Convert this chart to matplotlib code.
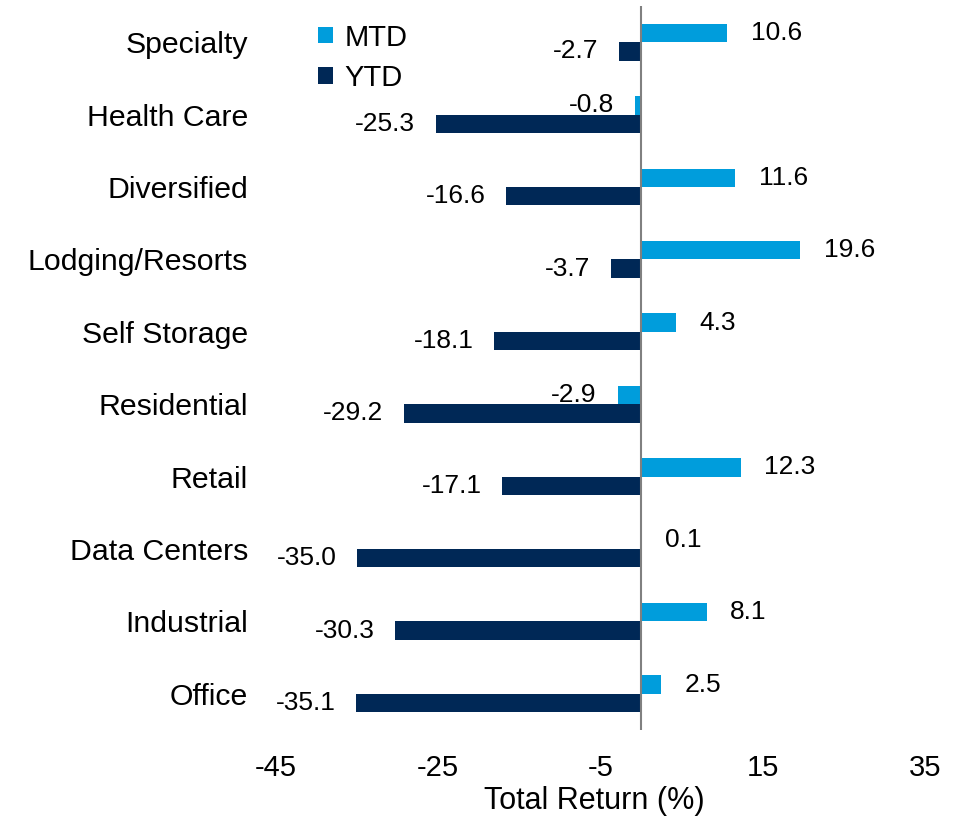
import numpy as np
import matplotlib.pyplot as plt

plt.rcParams['font.family'] = ['Liberation Sans', 'DejaVu Sans']

categories = ["Specialty", "Health Care", "Diversified", "Lodging/Resorts", "Self Storage",
              "Residential", "Retail", "Data Centers", "Industrial", "Office"]
mtd = [10.6, -0.8, 11.6, 19.6, 4.3, -2.9, 12.3, 0.1, 8.1, 2.5]
ytd = [-2.7, -25.3, -16.6, -3.7, -18.1, -29.2, -17.1, -35.0, -30.3, -35.1]
xticks = [-45, -25, -5, 15, 35]

mtd_color = "#009DDC"
ytd_color = "#002856"

fig = plt.figure(figsize=(9.61, 8.17), dpi=100)
ax = fig.add_axes([0.2872, 0.1065, 0.6753, 0.8862])

# first category at the top
y = np.arange(len(categories))[::-1]
h = 0.255
ax.barh(y + h / 2, mtd, height=h, color=mtd_color, label="MTD")
ax.barh(y - h / 2, ytd, height=h, color=ytd_color, label="YTD")

ax.axvline(0, color="#808080", lw=1.5, zorder=3)

def label_bars(vals, ypos):
    for v, yy in zip(vals, ypos):
        off = 17 if v >= 0 else -15
        ax.annotate(f"{v:.1f}", (v, yy), xytext=(off, 0), textcoords="offset points",
                    ha="left" if v >= 0 else "right", va="center", fontsize=19,
                    color="black")

label_bars(mtd, y + h / 2)
label_bars(ytd, y - h / 2)

ax.set_xlim(-45, 35)
ax.set_ylim(-0.5, len(categories) - 0.5)
ax.set_xticks(xticks)
ax.set_xticklabels([str(t) for t in xticks], fontsize=21)
ax.set_yticks(y)
ax.set_yticklabels(categories, fontsize=21.8)
ax.tick_params(axis="both", length=0)
ax.tick_params(axis="x", pad=17)
ax.tick_params(axis="y", pad=20)
ax.set_xlabel("Total Return (%)", fontsize=22)
ax.xaxis.set_label_coords(0.49, -0.078)

for s in ax.spines.values():
    s.set_visible(False)

ax.legend(loc="upper left", bbox_to_anchor=(0.025, 1.012), frameon=False, fontsize=21,
          handlelength=0.5, handleheight=0.5, handletextpad=0.4, labelspacing=0.42)

fig.savefig("out.png", dpi=100)
